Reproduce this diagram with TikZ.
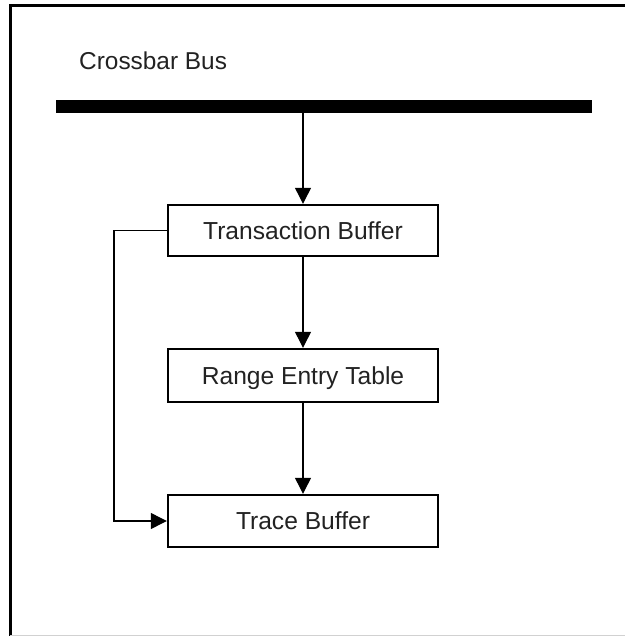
\documentclass[tikz,border=0pt]{standalone}
\usepackage{fontspec}
\setmainfont{Liberation Sans}
\usetikzlibrary{arrows.meta}
\definecolor{txt}{HTML}{222222}
\begin{document}
\begin{tikzpicture}[x=1pt,y=-1pt,
  block/.style={draw=black,line width=2.4pt,minimum width=270pt,text=txt,
    font=\fontsize{24.6}{28}\selectfont,text height=17.8pt,text depth=0pt,inner sep=0pt},
  flow/.style={line width=1.2pt,-{Triangle[length=16pt,width=16pt]}}]
  \useasboundingbox (0,0) rectangle (625,636);
  % frame
  \draw[line width=3pt] (10,636) -- (10,5.5) -- (625,5.5);
  \draw[line width=1pt,color=black!18] (10,635) -- (625,635);
  % bus
  \node[anchor=base west,inner sep=0pt,text=txt,font=\fontsize{24.4}{28}\selectfont] (label) at (79,69.3) {Crossbar Bus};
  \fill[black] (56,100) rectangle (591.5,113);
  \coordinate (bus) at (303,113);
  % blocks
  \node[block,minimum height=51pt] (tb) at (303,230.5) {Transaction Buffer};
  \node[block,minimum height=53pt] (ret) at (303,375.5) {Range Entry Table};
  \node[block,minimum height=52pt] (trb) at (303,521) {Trace Buffer};
  % connectors
  \draw[flow] (bus) -- (tb.north);
  \draw[flow] (tb.south) -- (ret.north);
  \draw[flow] (ret.south) -- (trb.north);
  \draw[flow] (tb.west) -- (114,230.5) |- (trb.west);
\end{tikzpicture}
\end{document}
